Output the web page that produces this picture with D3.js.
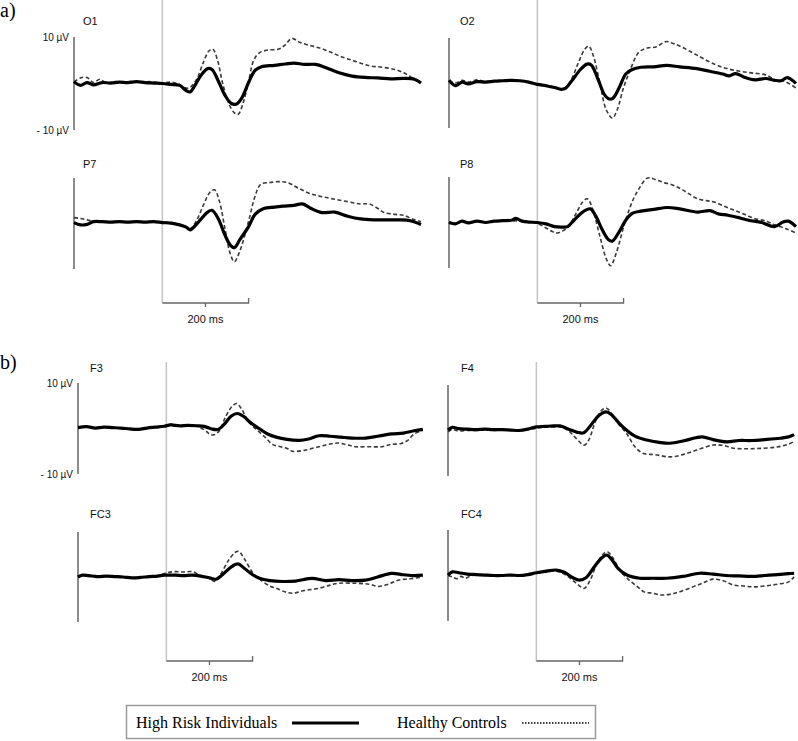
<!DOCTYPE html>
<html><head><meta charset="utf-8">
<script src="https://cdn.jsdelivr.net/npm/d3@7"></script>
<style>body{margin:0;background:#fff}svg{display:block}</style>
</head><body>
<svg id="chart" width="798" height="741"></svg>
<script>
// ---------- DATA (time in ms, amplitude in µV) ----------
const channels = ["O1","O2","P7","P8","F3","F4","FC3","FC4"];
const seriesNames = ["High Risk Individuals","Healthy Controls"];
const timeDomain = [-205, 600];
const scaleBarMs = 200;
const scaleBarLabel = "200 ms";
const ampLabels = ["10 µV","- 10 µV"];
const ampDomain = [-10, 10];

const O1_highRisk = [[-205,0.4],[-190,-0.4],[-175,0.2],[-160,-0.3],[-140,0.2],[-120,0.1],[-100,0.3],[-80,0.2],[-60,0.4],[-40,0.2],[-20,0.1],[0,0],[20,-0.2],[40,-0.4],[55,-1.5],[65,-1.8],[75,-0.5],[90,1.8],[105,3.2],[115,3.0],[130,0.5],[145,-2.5],[160,-4.3],[172,-4.4],[185,-3.0],[200,0.2],[215,2.8],[230,3.6],[260,3.9],[285,4.2],[305,4.4],[330,4.1],[355,4.1],[380,3.4],[410,2.3],[440,1.6],[470,1.3],[500,1.2],[530,1.0],[560,1.1],[585,0.9],[600,0.1]];
const O1_controls = [[-205,0.3],[-190,1.2],[-175,1.3],[-160,0.2],[-145,0.9],[-130,0.1],[-110,0.4],[-90,0.3],[-70,0.4],[-50,0.3],[-30,0.4],[-10,0.2],[0,0.1],[20,0.3],[40,-0.2],[55,-1.0],[65,-0.8],[80,1.0],[95,4.5],[108,7.0],[117,7.4],[128,5.0],[140,0],[155,-4.5],[168,-6.4],[176,-6.6],[188,-4.0],[200,0.5],[212,5.0],[225,6.6],[245,7.2],[270,7.4],[285,8.3],[300,9.7],[320,8.8],[345,8.1],[370,7.5],[396,6.5],[420,5.6],[450,4.7],[480,3.8],[510,3.5],[540,3.0],[560,2.3],[575,1.5],[590,0.6],[600,0.3]];

const P7_highRisk = [[-205,0.2],[-190,-0.3],[-175,-0.2],[-160,0.4],[-140,0.4],[-120,0.3],[-100,0.4],[-80,0.3],[-60,0.4],[-40,0.3],[-20,0.4],[0,0.2],[20,0.1],[40,-0.3],[55,-0.8],[65,-1.4],[75,-0.6],[90,1.0],[105,2.5],[115,2.9],[130,1.0],[145,-2.5],[158,-4.8],[167,-5.3],[180,-3.5],[200,-0.7],[215,2.0],[235,3.3],[260,3.6],[280,3.8],[305,4.0],[325,4.3],[345,3.3],[370,2.4],[400,2.5],[430,1.6],[460,1.0],[490,0.8],[520,0.8],[550,0.8],[575,0.6],[600,-0.2]];
const P7_controls = [[-205,1.3],[-190,1.1],[-175,0.8],[-160,0.5],[-140,0.5],[-120,0.4],[-100,0.5],[-80,0.3],[-60,0.5],[-40,0.4],[-20,0.5],[0,0.3],[20,0.2],[40,-0.2],[55,-0.7],[65,-1.1],[80,0.8],[95,4.0],[110,6.8],[121,7.4],[132,5.0],[145,-1.0],[157,-6.5],[167,-8.4],[180,-6.0],[200,0.5],[215,6.0],[228,8.6],[250,9.0],[270,9.2],[290,9.0],[315,7.8],[342,6.6],[370,5.9],[396,5.4],[430,4.8],[460,4.3],[480,4.3],[500,3.3],[515,2.4],[540,2.0],[560,1.8],[580,1.0],[600,0.4]];

const O2_highRisk = [[-205,0.6],[-190,-0.6],[-175,0.2],[-160,-0.2],[-140,0.3],[-120,0.2],[-100,0.4],[-80,0.5],[-60,0.6],[-40,0.5],[-20,0.2],[0,-0.3],[20,-0.6],[40,-1.0],[55,-1.4],[65,-1.2],[80,0.5],[100,3.0],[115,4.2],[125,4.0],[140,1.0],[155,-2.5],[165,-3.5],[175,-3.4],[190,-1.0],[205,2.0],[220,3.0],[240,3.5],[270,3.6],[300,3.9],[330,3.6],[370,3.2],[400,2.6],[430,2.0],[445,1.6],[460,2.1],[480,1.3],[505,0.7],[530,1.0],[550,0.6],[565,0.5],[580,1.2],[600,-0.1]];
const O2_controls = [[-205,0.5],[-190,0.0],[-175,0.6],[-160,0.2],[-140,0.7],[-120,0.3],[-100,0.5],[-80,0.4],[-60,0.6],[-40,0.4],[-20,0.2],[0,-0.2],[20,-0.5],[40,-0.9],[55,-1.3],[65,-1.0],[80,1.0],[95,4.5],[110,7.5],[119,8.2],[130,6.0],[145,0],[160,-6.0],[174,-7.8],[185,-6.0],[200,-1.0],[215,2.8],[235,6.8],[255,7.8],[275,8.0],[298,9.2],[315,8.8],[335,8.0],[370,6.2],[410,4.2],[440,3.2],[470,2.6],[500,2.2],[530,1.8],[550,0.8],[575,0.3],[600,-1.1]];

const P8_highRisk = [[-205,0],[-190,-0.3],[-175,0.3],[-160,-0.1],[-140,0.3],[-120,0.0],[-100,0.3],[-80,0.4],[-60,0.5],[-50,0.9],[-35,0.3],[-20,0.1],[0,0.0],[20,-0.3],[40,-0.9],[55,-1.0],[70,-0.9],[85,0.5],[105,2.3],[123,3.0],[135,1.5],[150,-1.5],[165,-3.8],[174,-4.1],[190,-2.0],[205,0.5],[220,2.0],[240,2.5],[270,2.9],[302,3.3],[330,3.0],[372,2.3],[400,2.6],[420,1.9],[442,1.6],[470,1.0],[490,0.5],[520,0],[550,-0.9],[570,0.1],[582,0.3],[600,-0.9]];
const P8_controls = [[-205,0.1],[-190,-0.2],[-175,0.3],[-160,0.0],[-140,0.3],[-120,0.1],[-100,0.3],[-80,0.4],[-60,0.4],[-40,0.3],[-20,0.1],[0,-0.2],[20,-1.2],[35,-2.0],[46,-2.3],[60,-1.8],[75,-0.5],[90,2.0],[105,4.5],[116,5.2],[128,3.0],[145,-3.0],[160,-8.0],[170,-9.5],[182,-7.0],[200,-1.0],[210,2.0],[222,5.0],[235,7.3],[256,9.8],[275,9.4],[293,8.8],[315,8.2],[333,7.4],[352,6.3],[372,5.2],[392,4.8],[410,4.5],[435,3.5],[457,2.7],[480,1.8],[503,0.9],[530,0.3],[550,-0.5],[575,-1.3],[600,-2.3]];

const F3_highRisk = [[-205,0.2],[-185,0.4],[-165,0.1],[-145,0.3],[-125,0.2],[-105,0.1],[-85,-0.1],[-65,-0.2],[-45,0.1],[-25,0.3],[-5,0.5],[10,0.8],[30,0.6],[50,0.7],[70,0.6],[90,0.4],[105,-0.1],[120,-0.2],[135,1.0],[150,2.7],[165,3.3],[180,2.6],[195,1.3],[215,0],[235,-1.2],[255,-1.9],[280,-2.4],[308,-2.6],[330,-2.3],[354,-1.6],[380,-1.7],[405,-1.9],[430,-2.1],[462,-2.1],[490,-1.7],[522,-1.2],[550,-1.0],[575,-0.5],[595,-0.2]];
const F3_controls = [[-205,0.2],[-185,0.4],[-165,0.1],[-145,0.3],[-125,0.2],[-105,0.0],[-85,-0.1],[-65,-0.2],[-45,0.1],[-25,0.3],[-5,0.6],[10,0.9],[30,0.7],[50,0.6],[70,0.5],[90,-0.4],[100,-1.2],[110,-1.4],[122,-0.6],[137,2.5],[152,4.8],[163,5.5],[175,4.2],[190,1.5],[210,-0.3],[230,-2.0],[246,-3.5],[265,-4.0],[280,-4.4],[292,-5.0],[320,-4.8],[354,-4.0],[380,-3.4],[400,-3.2],[420,-3.6],[440,-4.0],[470,-4.0],[500,-4.0],[520,-3.5],[545,-3.3],[560,-2.6],[575,-1.2],[595,-0.4]];

const F4_highRisk = [[-205,0.1],[-195,0.7],[-180,0.4],[-160,0.3],[-140,0.2],[-120,0.3],[-100,0.2],[-80,0.2],[-60,0.1],[-40,0.0],[-20,0.3],[0,0.8],[20,0.9],[40,1.0],[55,1.0],[75,0.3],[95,-0.4],[110,-0.5],[125,1.0],[145,3.3],[162,4.1],[175,3.4],[190,1.8],[209,0.1],[230,-1.3],[256,-2.1],[285,-2.6],[310,-2.8],[340,-2.3],[370,-1.6],[385,-1.4],[410,-2.0],[442,-2.5],[470,-2.2],[500,-2.2],[530,-2.0],[565,-1.7],[585,-1.4],[598,-0.9]];
const F4_controls = [[-205,-0.3],[-195,0.2],[-180,-0.1],[-160,0.0],[-140,0.0],[-120,0.1],[-100,0.0],[-80,0.1],[-60,0.0],[-40,0.0],[-20,0.2],[0,0.5],[20,0.7],[40,0.8],[55,0.8],[75,-0.1],[90,-1.5],[105,-2.9],[112,-3.2],[122,-2.0],[137,2.0],[152,4.5],[163,4.9],[175,3.6],[190,1.5],[209,-0.6],[228,-3.5],[247,-5.0],[275,-5.3],[310,-5.8],[340,-5.3],[372,-4.3],[410,-3.2],[435,-3.3],[457,-3.9],[490,-4.0],[526,-3.9],[560,-3.6],[585,-3.0],[598,-2.4]];

const FC3_highRisk = [[-205,0.0],[-195,0.4],[-180,0.3],[-160,0.1],[-140,0.2],[-120,0.1],[-100,0.0],[-80,-0.2],[-60,-0.1],[-40,0.1],[-20,0.2],[-5,0.4],[20,0.4],[40,0.3],[60,0.4],[80,0.2],[100,-0.2],[115,-0.5],[130,0.5],[150,2.2],[166,2.9],[180,2.0],[200,0.5],[216,-0.3],[240,-0.8],[270,-1.0],[300,-0.9],[338,-0.3],[370,-0.8],[400,-0.6],[430,-0.8],[462,-0.7],[490,0.0],[522,0.8],[550,0.5],[575,0.3],[595,0.4]];
const FC3_controls = [[-205,0.0],[-195,0.3],[-180,0.3],[-160,0.1],[-140,0.2],[-120,0.1],[-100,0.0],[-80,-0.2],[-60,-0.1],[-40,0.1],[-20,0.3],[0,0.9],[20,1.2],[40,1.1],[60,1.2],[80,0.3],[100,-0.3],[112,-1.0],[125,0.5],[145,3.8],[160,5.5],[168,5.7],[180,4.2],[200,1.0],[216,-0.5],[240,-2.0],[255,-2.5],[275,-3.3],[292,-3.6],[320,-3.0],[354,-2.5],[380,-1.8],[400,-1.4],[440,-1.4],[470,-1.6],[492,-2.1],[515,-1.6],[538,-0.7],[565,-0.4],[595,0.0]];

const FC4_highRisk = [[-205,0.1],[-195,0.8],[-180,0.6],[-160,0.3],[-140,0.2],[-120,0.1],[-100,0.0],[-80,0.0],[-60,0.1],[-40,0.0],[-20,0.2],[0,0.6],[20,0.9],[46,1.2],[65,0.7],[85,-0.5],[100,-1.0],[115,-0.5],[135,2.0],[152,3.9],[163,4.5],[175,3.5],[190,1.5],[210,0.1],[240,-0.6],[270,-0.6],[302,-0.6],[340,-0.2],[379,0.5],[410,0.3],[440,0.0],[470,-0.1],[500,-0.2],[530,0.0],[560,0.2],[585,0.4],[598,0.5]];
const FC4_controls = [[-205,0.0],[-195,-0.3],[-185,-0.7],[-175,-0.2],[-165,-0.6],[-150,0.0],[-130,0.1],[-110,0.0],[-90,0.0],[-70,0.0],[-50,0.0],[-30,0.1],[-10,0.3],[10,0.6],[30,0.9],[50,0.9],[70,0.0],[90,-1.5],[105,-2.6],[112,-2.8],[125,-1.0],[140,2.5],[155,4.7],[165,5.2],[178,3.8],[195,1.0],[215,-1.0],[235,-2.5],[250,-3.6],[270,-3.9],[293,-4.3],[325,-3.8],[363,-2.5],[390,-1.5],[410,-0.8],[435,-1.2],[457,-2.1],[480,-2.3],[503,-2.5],[530,-2.3],[560,-1.9],[585,-1.4],[598,-0.3]];

const seriesData = {
  O1:[O1_highRisk,O1_controls], O2:[O2_highRisk,O2_controls],
  P7:[P7_highRisk,P7_controls], P8:[P8_highRisk,P8_controls],
  F3:[F3_highRisk,F3_controls], F4:[F4_highRisk,F4_controls],
  FC3:[FC3_highRisk,FC3_controls], FC4:[FC4_highRisk,FC4_controls]
};

// ---------- LAYOUT ----------
const layout = {
  O1:{ax:74, top:37, bot:130, lx:83, ly:25, amp:true},
  P7:{ax:74, top:178, bot:269, lx:83, ly:168},
  O2:{ax:449, top:38, bot:128, lx:460, ly:25},
  P8:{ax:449, top:177, bot:268, lx:460, ly:168},
  F3:{ax:78, top:383, bot:474, lx:90, ly:372, amp:true},
  FC3:{ax:78, top:532, bot:622, lx:90, ly:518},
  F4:{ax:448, top:385, bot:476, lx:461, ly:372},
  FC4:{ax:448, top:530, bot:621, lx:461, ly:518}
};
const groups = [
  {label:"a)", lx:0, ly:17, cols:[{ch:["O1","P7"]},{ch:["O2","P8"]}], gTop:0, barY:303, textY:323},
  {label:"b)", lx:0, ly:369, cols:[{ch:["F3","FC3"]},{ch:["F4","FC4"]}], gTop:362, barY:661, textY:681}
];
const traceWidth = 347;

const svg = d3.select("#chart");
const sans = "'Liberation Sans', Arial, sans-serif";
const serif = "'Liberation Serif', 'Times New Roman', serif";

function xScaleFor(ax){ return d3.scaleLinear().domain(timeDomain).range([ax, ax+traceWidth]); }

groups.forEach(g => {
  svg.append("text").attr("x",g.lx).attr("y",g.ly).attr("font-family",serif)
    .attr("font-size",20).attr("fill","#000").text(g.label);
  g.cols.forEach(col => {
    const ax = layout[col.ch[0]].ax;
    const x = xScaleFor(ax);
    const x0 = x(0), x1 = x(scaleBarMs);
    // stimulus onset line
    svg.append("line").attr("x1",x0).attr("x2",x0).attr("y1",g.gTop).attr("y2",g.barY)
      .attr("stroke","#c4c4c4").attr("stroke-width",1.5);
    // scale bar bracket
    svg.append("path")
      .attr("d",`M${x0},${g.barY}H${x1}V${g.barY-5}M${(x0+x1)/2},${g.barY}V${g.barY+4}`)
      .attr("fill","none").attr("stroke","#666").attr("stroke-width",1.3);
    svg.append("text").attr("x",(x0+x1)/2).attr("y",g.textY).attr("text-anchor","middle")
      .attr("font-family",sans).attr("font-size",11).attr("fill","#111").text(scaleBarLabel);
  });
});

const line = d3.line().curve(d3.curveCatmullRom.alpha(0.5));

channels.forEach(ch => {
  const L = layout[ch];
  const x = xScaleFor(L.ax);
  const y = d3.scaleLinear().domain(ampDomain).range([L.bot, L.top]);
  svg.append("line").attr("x1",L.ax).attr("x2",L.ax).attr("y1",L.top).attr("y2",L.bot)
    .attr("stroke","#6e6e6e").attr("stroke-width",1.6);
  svg.append("text").attr("x",L.lx).attr("y",L.ly).attr("font-family",sans)
    .attr("font-size",11).attr("fill","#111").text(ch);
  if (L.amp) {
    svg.append("text").attr("x",L.ax-5).attr("y",L.top+4).attr("text-anchor","end")
      .attr("font-family",sans).attr("font-size",10).attr("fill","#111").text(ampLabels[0]);
    svg.append("text").attr("x",L.ax-5).attr("y",L.bot+4).attr("text-anchor","end")
      .attr("font-family",sans).attr("font-size",10).attr("fill","#111").text(ampLabels[1]);
  }
  const [hr, hc] = seriesData[ch];
  line.x(d => x(d[0])).y(d => y(d[1]));
  svg.append("path").attr("d",line(hc)).attr("fill","none").attr("stroke","#3a3a3a")
    .attr("stroke-width",1.6).attr("stroke-dasharray","4,2.5");
  svg.append("path").attr("d",line(hr)).attr("fill","none").attr("stroke","#000")
    .attr("stroke-width",3.2).attr("stroke-linejoin","round");
});

// ---------- LEGEND ----------
const lg = svg.append("g");
lg.append("rect").attr("x",126.5).attr("y",705.5).attr("width",469).attr("height",33)
  .attr("fill","#fff").attr("stroke","#9a9a9a").attr("stroke-width",1.5);
lg.append("text").attr("x",136).attr("y",728).attr("font-family",serif).attr("font-size",16)
  .attr("fill","#000").text(seriesNames[0]);
lg.append("line").attr("x1",292).attr("x2",359).attr("y1",723).attr("y2",723)
  .attr("stroke","#000").attr("stroke-width",3);
lg.append("text").attr("x",397).attr("y",728).attr("font-family",serif).attr("font-size",16)
  .attr("fill","#000").text(seriesNames[1]);
lg.append("line").attr("x1",522).attr("x2",589).attr("y1",723).attr("y2",723)
  .attr("stroke","#000").attr("stroke-width",1.5).attr("stroke-dasharray","1.5,1.5");
</script>
</body></html>
